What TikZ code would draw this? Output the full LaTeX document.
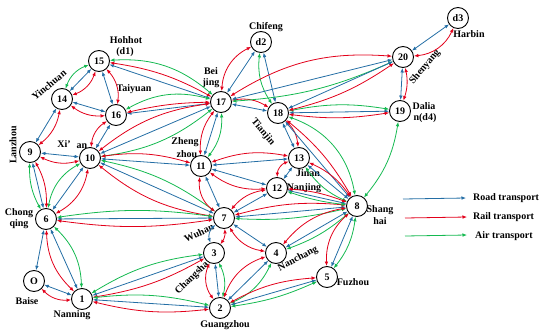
\documentclass[tikz,border=0pt]{standalone}
\usepackage{fontspec}
\setmainfont{Liberation Serif}
\usetikzlibrary{arrows.meta}
\definecolor{roadc}{RGB}{36,110,165}
\definecolor{railc}{RGB}{226,0,26}
\definecolor{airc}{RGB}{20,185,80}
\tikzset{
 city/.style={circle, draw, line width=0.9pt, minimum size=21pt, inner sep=0pt, fill=white, font=\bfseries\fontsize{10}{10}\selectfont},
 lab/.style={inner sep=0pt, font=\bfseries\fontsize{10}{11}\selectfont},
 road/.style={draw=roadc, line width=0.8pt, {Latex[length=4.5pt,width=3.6pt]}-{Latex[length=4.5pt,width=3.6pt]}},
 rail/.style={draw=railc, line width=0.8pt, {Latex[length=4.5pt,width=3.6pt]}-{Latex[length=4.5pt,width=3.6pt]}},
 air/.style={draw=airc, line width=0.8pt, {Latex[length=4.5pt,width=3.6pt]}-{Latex[length=4.5pt,width=3.6pt]}},
 legroad/.style={draw=roadc, line width=0.8pt, -{Latex[length=4.5pt,width=3.6pt]}},
 legrail/.style={draw=railc, line width=0.8pt, -{Latex[length=4.5pt,width=3.6pt]}},
 legair/.style={draw=airc, line width=0.8pt, -{Latex[length=4.5pt,width=3.6pt]}}
}
\begin{document}
\begin{tikzpicture}[x=1pt,y=-1pt]
\useasboundingbox (0,0) rectangle (550,335);
% cities
\node[city] (d3) at (458,18) {d3};
\node[city] (n20) at (403,57) {20};
\node[city] (n19) at (400,111) {19};
\node[city] (d2) at (261,42) {d2};
\node[city] (n17) at (221,102) {17};
\node[city] (n18) at (278,113) {18};
\node[city] (n15) at (99,61) {15};
\node[city] (n14) at (62,99) {14};
\node[city] (n16) at (116,115) {16};
\node[city] (n9) at (30,152) {9};
\node[city] (n10) at (90,158) {10};
\node[city] (n11) at (201,166) {11};
\node[city] (n13) at (299,158) {13};
\node[city] (n12) at (277,188) {12};
\node[city] (n8) at (357,206) {8};
\node[city] (n6) at (46,219) {6};
\node[city] (n7) at (224,218) {7};
\node[city] (n3) at (214,253) {3};
\node[city] (n4) at (276,253) {4};
\node[city] (n5) at (327,277) {5};
\node[city] (n0) at (34,281) {O};
\node[city] (n1) at (82,299) {1};
\node[city] (n2) at (220,308) {2};
% labels
\node[lab] (lhoh) at (126,40) {Hohhot};
\node[lab] (ld1) at (125,52) {(d1)};
\node[lab, rotate=40] (lyin) at (49,85) {Yinchuan};
\node[lab] (ltai) at (134,89) {Taiyuan};
\node[lab, rotate=90] (llan) at (13,145) {Lanzhou};
\node[lab] (lxi) at (64,144) {Xi’};
\node[lab] (lan) at (82,146) {an};
\node[lab] (lbei) at (211,71) {Bei};
\node[lab] (ljing) at (211,83) {jing};
\node[lab] (lchi) at (266,27) {Chifeng};
\node[lab, rotate=-50] (ltia) at (263,132) {Tianjin};
\node[lab] (lhar) at (469,34) {Harbin};
\node[lab, rotate=50] (lshe) at (425,67) {Shenyang};
\node[lab] (ldal) at (424,106) {Dalia};
\node[lab] (ld4) at (425,118) {n(d4)};
\node[lab] (lzhe) at (185,142) {Zheng};
\node[lab] (lzho) at (187,154) {zhou};
\node[lab] (ljin) at (308,173) {Jinan};
\node[lab] (lnjg) at (304,188) {Nanjing};
\node[lab] (lsha) at (380,210) {Shang};
\node[lab] (lhai) at (380,221) {hai};
\node[lab, rotate=25] (lwuh) at (199,233) {Wuhan};
\node[lab, rotate=28] (lnch) at (298,259) {Nanchang};
\node[lab, rotate=45] (lchs) at (192,278) {Changsha};
\node[lab] (lfuz) at (353,282) {Fuzhou};
\node[lab] (lgua) at (225,325) {Guangzhou};
\node[lab] (lnan) at (72,315) {Nanning};
\node[lab] (lbai) at (27,301) {Baise};
\node[lab] (lcho) at (19,213) {Chong};
\node[lab] (lqin) at (19,224) {qing};
% connections
\draw[road] (n15) -- (n14);
\draw[rail] (n15) to[bend left=25] (n14);
\draw[air] (n15) to[bend right=25] (n14);
\draw[road] (n15) -- (n16);
\draw[rail] (n15) to[bend left=25] (n16);
\draw[road] (n14) -- (n16);
\draw[rail] (n14) to[bend right=20] (n16);
\draw[road] (n14) -- (n9);
\draw[rail] (n14) to[bend left=20] (n9);
\draw[road] (n16) -- (n10);
\draw[rail] (n16) to[bend right=25] (n10);
\draw[road] (n9) -- (n10);
\draw[rail] (n9) to[bend right=20] (n10);
\draw[road] (n17) -- (n15);
\draw[rail] (n17) to[bend right=10] (n15);
\draw[air] (n17) to[bend right=22] (n15);
\draw[road] (n17) -- (n16);
\draw[rail] (n17) to[bend right=6] (n16);
\draw[air] (n17) to[bend right=22] (n16);
\draw[road] (n17) -- (n10);
\draw[rail] (n17) to[bend right=15] (n10);
\draw[air] (n17) to[bend left=15] (n10);
\draw[road] (n10) -- (n11);
\draw[rail] (n10) to[bend left=12] (n11);
\draw[road] (n10) -- (n7);
\draw[air] (n10) to[bend left=12] (n7);
\draw[rail] (n10) to[bend right=15] (n7);
\draw[road] (n6) -- (n7);
\draw[air] (n6) to[bend left=8] (n7);
\draw[rail] (n6) to[bend right=8] (n7);
\draw[road] (n10) -- (n6);
\draw[air] (n10) to[bend right=25] (n6);
\draw[rail] (n10) to[bend left=25] (n6);
\draw[road] (n9) -- (n6);
\draw[rail] (n9) to[bend left=15] (n6);
\draw[air] (n9) to[bend right=15] (n6);
\draw[road] (n6) -- (n0);
\draw[road] (n0) -- (n1);
\draw[rail] (n0) to[bend right=25] (n1);
\draw[road] (n6) -- (n1);
\draw[rail] (n6) to[bend right=22] (n1);
\draw[air] (n6) to[bend left=22] (n1);
\draw[road] (n1) -- (n3);
\draw[air] (n1) to[bend left=12] (n3);
\draw[rail] (n1) to[bend right=10] (n3);
\draw[road] (n1) -- (n2);
\draw[air] (n1) to[bend left=10] (n2);
\draw[rail] (n1) to[bend right=10] (n2);
\draw[road] (n3) -- (n2);
\draw[rail] (n3) to[bend right=30] (n2);
\draw[air] (n3) to[bend left=20] (n2);
\draw[road] (n7) to[bend right=35] (n3);
\draw[rail] (n7) to[bend left=20] (n3);
\draw[road] (n7) -- (n4);
\draw[rail] (n7) to[bend right=25] (n4);
\draw[road] (n11) -- (n7);
\draw[rail] (n11) to[bend right=30] (n7);
\draw[road] (n7) -- (n12);
\draw[rail] (n7) to[bend left=20] (n12);
\draw[road] (n7) -- (n8);
\draw[rail] (n7) to[bend left=10] (n8);
\draw[air] (n7) to[bend right=8] (n8);
\draw[road] (n11) -- (n12);
\draw[rail] (n11) to[bend right=20] (n12);
\draw[road] (n11) -- (n13);
\draw[rail] (n11) to[bend left=15] (n13);
\draw[road] (n12) -- (n13);
\draw[rail] (n12) to[bend left=35] (n13);
\draw[road] (n17) -- (n11);
\draw[rail] (n17) to[bend right=20] (n11);
\draw[air] (n17) to[bend left=20] (n11);
\draw[road] (n17) -- (n18);
\draw[rail] (n17) to[bend left=20] (n18);
\draw[road] (n17) -- (d2);
\draw[rail] (n17) to[bend left=30] (d2);
\draw[road] (d2) -- (n18);
\draw[air] (d2) to[bend right=20] (n18);
\draw[road] (n18) -- (n13);
\draw[rail] (n18) to[bend left=20] (n13);
\draw[road] (n18) -- (n19);
\draw[air] (n18) to[bend left=10] (n19);
\draw[rail] (n18) to[bend right=8] (n19);
\draw[road] (n18) -- (n8);
\draw[rail] (n18) to[bend left=10] (n8);
\draw[air] (n18) to[bend left=30] (n8);
\draw[road] (n13) -- (n8);
\draw[rail] (n13) to[bend left=15] (n8);
\draw[air] (n13) to[bend right=15] (n8);
\draw[road] (n12) -- (n8);
\draw[rail] (n12) to[bend left=8] (n8);
\draw[air] (n12) to[bend right=6] (n8);
\draw[road] (n4) -- (n8);
\draw[rail] (n4) to[bend left=20] (n8);
\draw[air] (n4) to[bend right=10] (n8);
\draw[road] (n5) -- (n8);
\draw[rail] (n5) to[bend left=25] (n8);
\draw[air] (n5) to[bend right=15] (n8);
\draw[air] (n19) to[bend left=15] (n8);
\draw[road] (n2) -- (n4);
\draw[rail] (n2) to[bend left=25] (n4);
\draw[air] (n2) to[bend right=20] (n4);
\draw[road] (n2) -- (n5);
\draw[rail] (n2) to[bend left=12] (n5);
\draw[air] (n2) to[bend right=8] (n5);
\draw[road] (n17) -- (n20);
\draw[rail] (n17) to[bend left=18] (n20);
\draw[air] (n17) to[bend right=10] (n20);
\draw[road] (n18) -- (n20);
\draw[rail] (n18) to[bend right=10] (n20);
\draw[road] (n20) -- (n19);
\draw[rail] (n20) to[bend left=15] (n19);
\draw[road] (n20) -- (d3);
\draw[rail] (n20) to[bend right=30] (d3);
% legend
\coordinate (la1) at (403,199);
\coordinate (la2) at (466,198);
\coordinate (lb1) at (405,218);
\coordinate (lb2) at (467,217);
\coordinate (lc1) at (405,236);
\coordinate (lc2) at (467,235);
\draw[legroad] (la1) -- (la2);
\draw[legrail] (lb1) -- (lb2);
\draw[legair] (lc1) -- (lc2);
\node[lab, anchor=west] (troad) at (473,198) {Road transport};
\node[lab, anchor=west] (trail) at (473,217) {Rail transport};
\node[lab, anchor=west] (tair) at (475,236) {Air transport};
\end{tikzpicture}
\end{document}
